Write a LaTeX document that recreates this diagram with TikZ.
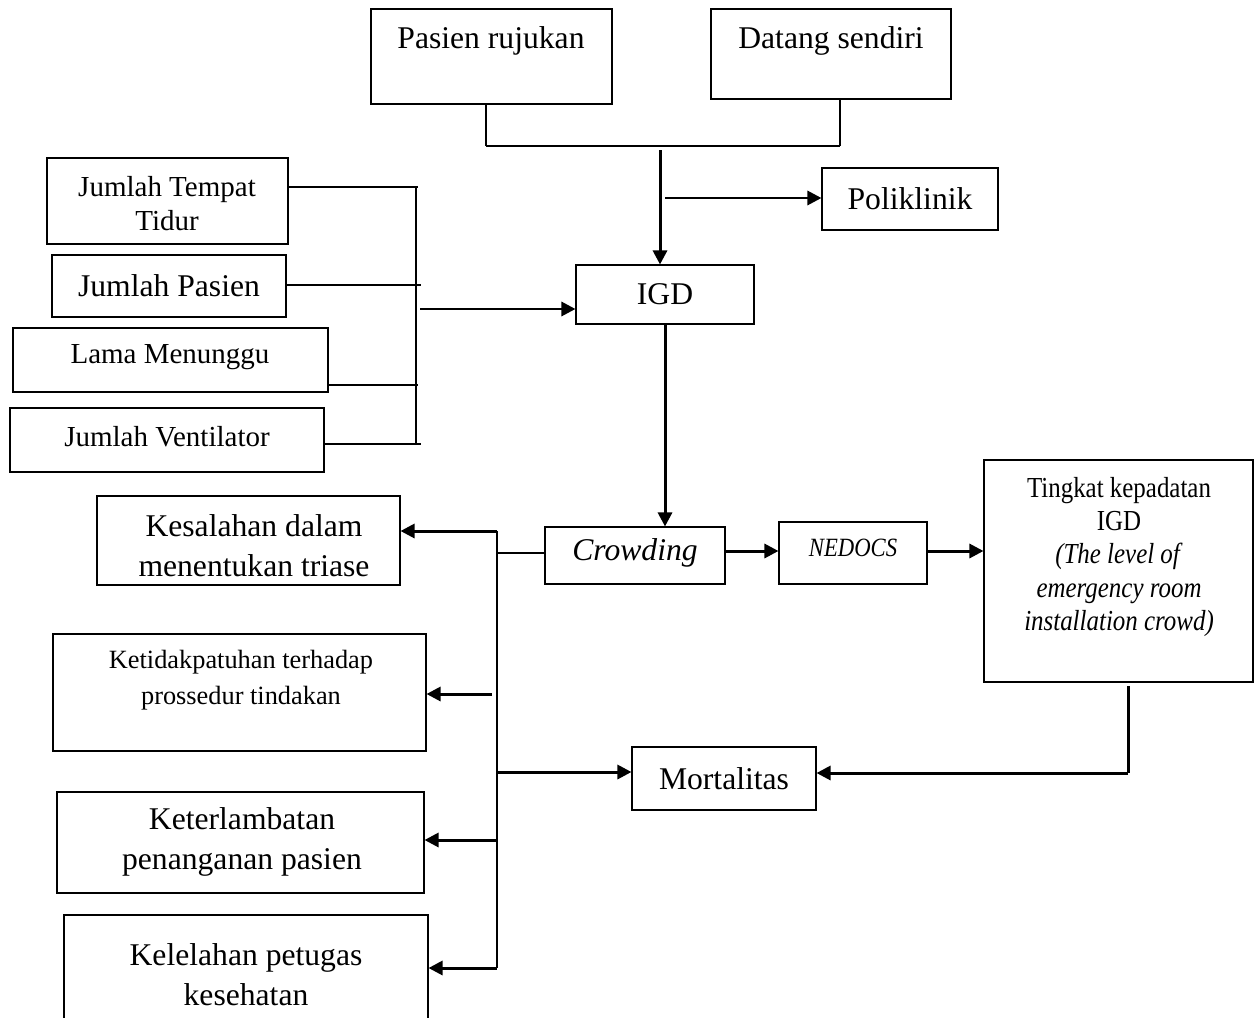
\documentclass[tikz,border=0pt]{standalone}
\usepackage{fontspec}
\setmainfont{Liberation Serif}
\newfontfamily\condfont[FakeStretch=0.86]{Liberation Serif}
\usetikzlibrary{fit,arrows.meta}
\begin{document}
\begin{tikzpicture}[x=0.02cm,y=-0.02cm,
  box/.style={draw, line width=0.6pt, inner sep=0pt},
  txt/.style={inner sep=0pt, align=center, font=\fontsize{18}{22.7}\selectfont},
  smalltxt/.style={inner sep=0pt, align=center, font=\fontsize{16.5}{19.3}\selectfont},
  thinline/.style={line width=0.6pt},
  midline/.style={line width=1pt},
  heavy/.style={line width=1.7pt},
  arr/.style={line width=1.7pt, -{Triangle[length=8pt,width=8pt]}}]
\useasboundingbox (0,0) rectangle (1256,1017);

% top sources
\node[box, fit={(371,9) (612,104)}] (pr) {};
\node[txt] (prt) at (491,41) {Pasien rujukan};
\node[box, fit={(711,9) (951,99)}] (ds) {};
\node[txt] (dst) at (831,41) {Datang sendiri};

\coordinate (j1) at (486,146);
\coordinate (j2) at (840,146);
\draw[thinline] (pr.south -| j1) -- (j1);
\draw[thinline] (ds.south -| j2) -- (j2);
\draw[heavy] (j1) -- (j2);

% IGD and Poliklinik
\node[box, fit={(822,168) (998,230)}] (pk) {};
\node[txt] (pkt) at (pk.center) {Poliklinik};
\node[box, fit={(576,265) (754,324)}] (igd) {};
\node[txt] (igdt) at (igd.center) {IGD};

\coordinate (j3) at (660,150);
\draw[arr] (j3) -- (j3 |- igd.north);
\coordinate (j4) at (665,198);
\draw[arr] (j4) -- (j4 -| pk.west);

% left factors
\node[box, fit={(47,158) (288,244)}] (jtt) {};
\node[smalltxt] (jttt) at (167,204) {Jumlah Tempat\\Tidur};
\node[box, fit={(52,255) (286,317)}] (jp) {};
\node[txt] (jpt) at (169,286) {Jumlah Pasien};
\node[box, fit={(13,328) (328,392)}] (lm) {};
\node[smalltxt] (lmt) at (170,357) {Lama Menunggu};
\node[box, fit={(10,408) (324,472)}] (jv) {};
\node[smalltxt] (jvt) at (167,437) {Jumlah Ventilator};

\coordinate (b1) at (418,187);
\coordinate (b2) at (421,285);
\coordinate (b3) at (418,385);
\coordinate (b4) at (421,444);
\coordinate (v1) at (416,187);
\coordinate (v2) at (416,444);
\draw[thinline] (b1 -| jtt.east) -- (b1);
\draw[thinline] (b2 -| jp.east) -- (b2);
\draw[thinline] (b3 -| lm.east) -- (b3);
\draw[thinline] (b4 -| jv.east) -- (b4);
\draw[midline] (v1) -- (v2);
\coordinate (b5) at (420,309);
\draw[arr] (b5) -- (b5 -| igd.west);

% crowding chain
\node[box, fit={(545,527) (725,584)}] (cr) {};
\node[txt, font=\fontsize{18}{22.7}\selectfont\itshape] (crt) at (635,553) {Crowding};
\draw[arr] (igd.south) -- (igd.south |- cr.north);

\node[box, fit={(779,522) (927,584)}] (ne) {};
\node[txt, font=\fontsize{15}{18}\condfont\itshape] (net) at (853,548) {NEDOCS};
\coordinate (k1) at (725,551);
\draw[arr] (k1) -- (k1 -| ne.west);

\node[box, fit={(984,460) (1253,682)}] (tk) {};
\node[txt, font=\fontsize{16.5}{19}\condfont] (tkt) at (1119,557)
  {Tingkat kepadatan\\IGD\\\textit{(The level of}\\\textit{emergency room}\\\textit{installation crowd)}};
\coordinate (k2) at (928,551);
\draw[arr] (k2) -- (k2 -| tk.west);

% mortalitas
\node[box, fit={(632,747) (816,810)}] (mo) {};
\node[txt] (mot) at (mo.center) {Mortalitas};
\coordinate (t0) at (1128,686);
\coordinate (t1) at (1128,773);
\draw[heavy] (t0) -- (t1);
\draw[arr] (t1) -- (t1 -| mo.east);

% consequences
\node[box, fit={(97,496) (400,585)}] (ks) {};
\node[txt] (kst) at (254,546) {Kesalahan dalam\\menentukan triase};
\node[box, fit={(53,634) (426,751)}] (kt) {};
\node[txt, font=\fontsize{15}{20.4}\selectfont] (ktt) at (241,680) {Ketidakpatuhan terhadap\\prossedur tindakan};
\node[box, fit={(57,792) (424,893)}] (kl) {};
\node[txt] (klt) at (242,842) {Keterlambatan\\penanganan pasien};
\node[box, fit={(64,915) (428,1022)}] (ke) {};
\node[txt] (ket) at (246,975) {Kelelahan petugas\\kesehatan};

\coordinate (c1) at (497,553);
\coordinate (c2) at (497,531);
\coordinate (c3) at (492,694);
\coordinate (c4) at (497,772);
\coordinate (c5) at (497,840);
\coordinate (c6) at (497,968);
\draw[thinline] (cr.west |- c1) -- (c1);
\draw[midline] (c2) -- (c6);
\draw[arr] (c2) -- (c2 -| ks.east);
\draw[arr] (c3) -- (c3 -| kt.east);
\draw[arr] (c4) -- (c4 -| mo.west);
\draw[arr] (c5) -- (c5 -| kl.east);
\draw[arr] (c6) -- (c6 -| ke.east);
\end{tikzpicture}
\end{document}
